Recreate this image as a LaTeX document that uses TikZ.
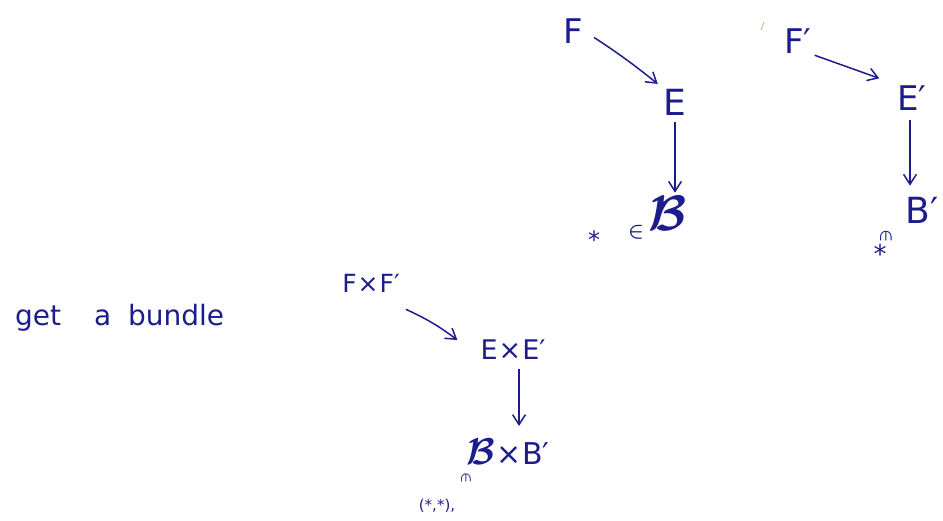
\documentclass[tikz,border=0pt]{standalone}
\usepackage{amsmath,amssymb}
\usepackage{fontspec}
\setmainfont{DejaVu Sans}
\usetikzlibrary{arrows.meta}

\definecolor{ink}{RGB}{28,28,140}
\definecolor{pencil}{RGB}{205,170,120}

\newcommand{\curlyB}[1]{\scalebox{#1}{$\boldsymbol{\mathcal{B}}$}}

\begin{document}
\begin{tikzpicture}[x=1pt, y=-1pt, every node/.style={text=ink, inner sep=1pt}, >={Straight Barb[length=3.5mm, width=4.5mm]}]
	\useasboundingbox (0,0) rectangle (943,521);
	% first bundle
	\node (F) at (573,31) {\fontsize{34}{40}\selectfont F};
	\node (E) at (675,102) {\fontsize{36}{42}\selectfont E};
	\node (B) at (668,213) {\fontsize{30}{34}\selectfont \curlyB{2}};
	\node (s1) at (594,240) {\fontsize{24}{26}\selectfont *};
	\node (in1) at (636,232) {\fontsize{22}{24}\selectfont $\boldsymbol{\in}$};
	\draw[->, ink, line width=1.5pt, shorten <=12pt, shorten >=6pt] (F.east) to[bend left=3] (E.north west);
	\draw[->, ink, line width=1.5pt, shorten <=6pt, shorten >=2pt] (E.south) -- (E.south |- B.north);
	% second bundle
	\draw[pencil, thick] (761,30) -- (764,22);
	\node (Fp) at (798,41) {\fontsize{34}{40}\selectfont F′};
	\node (Ep) at (912,98) {\fontsize{34}{40}\selectfont E′};
	\node (Bp) at (922,210) {\fontsize{36}{42}\selectfont B′};
	\node (s2) at (880,254) {\fontsize{26}{28}\selectfont *};
	\node[rotate=-90] (in2) at (886,236) {\fontsize{16}{18}\selectfont $\boldsymbol{\in}$};
	\draw[->, ink, line width=1.5pt, shorten <=2pt, shorten >=18pt] (Fp.south east) -- (Ep.north west);
	\draw[->, ink, line width=1.5pt, shorten <=8pt, shorten >=10pt] (Ep.south -| 910,0) -- (Bp.north -| 910,0);
	% product
	\node[anchor=west] (txt) at (14,318) {\fontsize{28}{32}\selectfont get\hspace{24pt} a\hspace{8pt} bundle};
	\node (FF) at (371,283) {\fontsize{25}{30}\selectfont F\kern1pt×\kern1pt F′};
	\node (EE) at (513,350) {\fontsize{27}{32}\selectfont E\kern1pt×\kern1pt E′};
	\node (BB) at (508,452) {\fontsize{30}{34}\selectfont \curlyB{1.5}\kern1pt×\kern1pt B′};
	\node[rotate=-90] (in3) at (466,478) {\fontsize{14}{16}\selectfont $\boldsymbol{\in}$};
	\node (pt) at (437,506) {\fontsize{15}{18}\selectfont (*,*),};
	\draw[->, ink, line width=1.5pt] ([shift={(5,16)}]FF.south east) to[bend left=6] ([shift={(-22,-10)}]EE.west);
	\draw[->, ink, line width=1.5pt, shorten <=8pt, shorten >=12pt] (EE.south -| 519,0) -- (BB.north -| 519,0);
\end{tikzpicture}
\end{document}
